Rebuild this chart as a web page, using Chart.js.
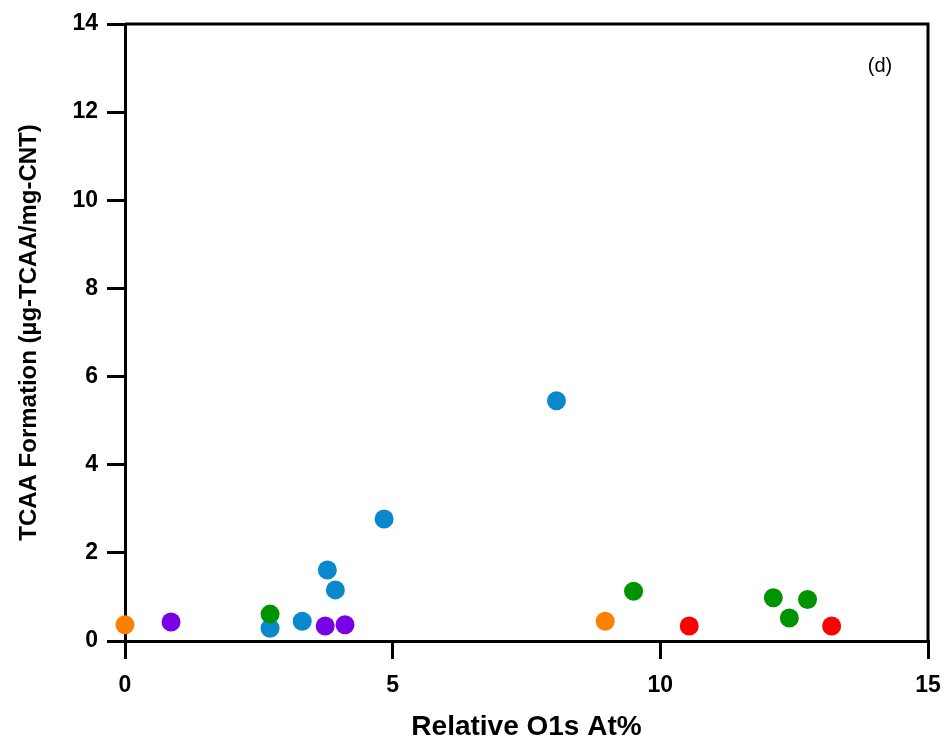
<!DOCTYPE html>
<html>
<head>
<meta charset="utf-8">
<script src="https://cdn.jsdelivr.net/npm/chart.js@4.4.1/dist/chart.umd.min.js"></script>
<style>
  html, body { margin: 0; padding: 0; background: #fff; }
  #wrap { width: 946px; height: 740px; position: relative; }
</style>
</head>
<body>
<div id="wrap"><canvas id="chart" width="946" height="740"></canvas></div>
<script>
// values, grouped by marker colour
const orangeX = [0, 8.97];
const orangeY = [0.37, 0.45];
const purpleX = [0.86, 3.74, 4.11];
const purpleY = [0.43, 0.34, 0.37];
const greenX = [2.71, 9.5, 12.11, 12.41, 12.75];
const greenY = [0.61, 1.13, 0.98, 0.52, 0.94];
const blueX = [2.71, 3.31, 3.78, 3.93, 4.84, 8.06];
const blueY = [0.29, 0.45, 1.61, 1.16, 2.77, 5.45];
const redX = [10.54, 13.2];
const redY = [0.34, 0.34];

const xTicks = [0, 5, 10, 15];
const yTicks = [0, 2, 4, 6, 8, 10, 12, 14];

const pts = (xs, ys) => xs.map((x, i) => ({ x, y: ys[i] }));
const series = (label, color, xs, ys) => ({
  label, data: pts(xs, ys),
  backgroundColor: color, borderWidth: 0,
  pointRadius: 9.5, pointHoverRadius: 9.5,
  clip: false,
});

// box border on top / right + panel label
const frame = {
  id: 'frame',
  afterDraw(chart) {
    const { ctx, chartArea: a } = chart;
    ctx.save();
    ctx.strokeStyle = '#000';
    ctx.lineWidth = 3;
    ctx.beginPath();
    ctx.moveTo(a.left, a.top);
    ctx.lineTo(a.right, a.top);
    ctx.lineTo(a.right, a.bottom);
    ctx.stroke();
    ctx.fillStyle = '#000';
    ctx.font = '20px "Liberation Sans", Arial, sans-serif';
    ctx.textAlign = 'center';
    ctx.textBaseline = 'middle';
    ctx.fillText('(d)', 880, 66);
    ctx.restore();
  }
};

const tickFont = { family: '"Liberation Sans", Arial, sans-serif', size: 23, weight: 'bold' };

new Chart(document.getElementById('chart'), {
  type: 'scatter',
  data: {
    datasets: [
      series('orange', '#ff7f00', orangeX, orangeY),
      series('purple', '#7a00e6', purpleX, purpleY),
      series('green', '#009300', greenX, greenY),
      series('blue', '#0a88cc', blueX, blueY),
      series('red', '#ff0000', redX, redY),
    ]
  },
  options: {
    responsive: false, animation: false,
    layout: { padding: { top: 24, right: 18, left: 0, bottom: 0 } },
    plugins: { legend: { display: false }, tooltip: { enabled: false } },
    scales: {
      x: {
        type: 'linear', min: 0, max: 15,
        afterBuildTicks: s => { s.ticks = xTicks.map(v => ({ value: v })); },
        afterFit: s => { s.height = 99; s.paddingLeft = 0; s.paddingRight = 0; },
        border: { color: '#000', width: 3 },
        grid: { drawOnChartArea: false, color: '#000', lineWidth: 3, tickLength: 18 },
        ticks: { color: '#000', font: tickFont, padding: 13 },
        title: {
          display: true, text: 'Relative O1s At%', color: '#000',
          font: { family: '"Liberation Sans", Arial, sans-serif', size: 28, weight: 'bold' },
          padding: { top: 11, bottom: -4 }
        }
      },
      y: {
        type: 'linear', min: 0, max: 14,
        afterBuildTicks: s => { s.ticks = yTicks.map(v => ({ value: v })); },
        afterFit: s => { s.width = 125; s.paddingTop = 0; s.paddingBottom = 0; },
        border: { color: '#000', width: 3 },
        grid: { drawOnChartArea: false, color: '#000', lineWidth: 3, tickLength: 18 },
        ticks: { color: '#000', font: tickFont, padding: 9 },
        title: {
          display: true, text: 'TCAA Formation (µg-TCAA/mg-CNT)', color: '#000',
          font: { family: '"Liberation Sans", Arial, sans-serif', size: 24, weight: 'bold' },
          padding: { top: 15, bottom: 0 }
        }
      }
    }
  },
  plugins: [frame]
});
</script>
</body>
</html>
